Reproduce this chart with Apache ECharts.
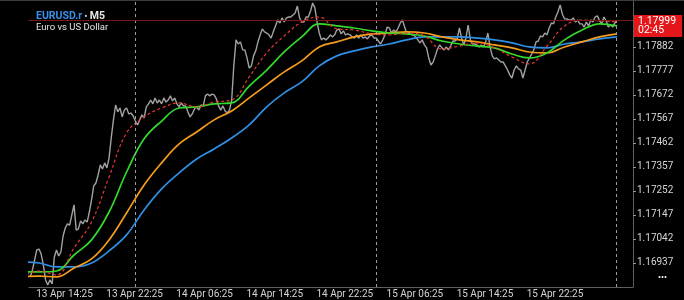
<!DOCTYPE html>
<html><head><meta charset="utf-8">
<script src="https://cdn.jsdelivr.net/npm/echarts@6/dist/echarts.min.js"></script>
<style>html,body{margin:0;padding:0;background:#000}#c{width:684px;height:300px}</style>
</head><body><div id="c"></div>
<script>
// Time values are hours since 13 Apr 00:00 (server time)
const symbol = 'EURUSD.r';
const timeframe = 'M5';
const description = 'Euro vs US Dollar';

// Closing prices, one every 15 minutes starting 13 Apr 10:30
const priceStart = 10.5;
const priceStep = 0.25;
const closes = [
  1.16876,1.16906,1.16950,1.16994,1.16998,1.16976,1.16928,1.16863,1.16841,1.16863,
  1.16845,1.16963,1.16994,1.16968,1.16985,1.17055,1.17090,1.17108,1.17103,1.17147,
  1.17191,1.17081,1.17086,1.17121,1.17108,1.17125,1.17116,1.17160,1.17213,1.17274,
  1.17287,1.17322,1.17366,1.17348,1.17375,1.17353,1.17396,1.17484,1.17563,1.17628,
  1.17598,1.17615,1.17576,1.17606,1.17615,1.17589,1.17593,1.17580,1.17558,1.17541,
  1.17563,1.17585,1.17571,1.17620,1.17633,1.17650,1.17633,1.17659,1.17637,1.17650,
  1.17633,1.17659,1.17641,1.17650,1.17668,1.17646,1.17659,1.17633,1.17620,1.17637,
  1.17624,1.17624,1.17598,1.17576,1.17589,1.17611,1.17620,1.17606,1.17628,1.17624,
  1.17668,1.17676,1.17668,1.17676,1.17672,1.17655,1.17624,1.17606,1.17624,1.17602,
  1.17593,1.17606,1.17650,1.17803,1.17913,1.17895,1.17904,1.17869,1.17869,1.17834,
  1.17790,1.17799,1.17843,1.17865,1.17904,1.17935,1.17961,1.17948,1.17943,1.17935,
  1.17921,1.17948,1.17974,1.18000,1.17987,1.18009,1.17991,1.18009,1.18013,1.18013,
  1.18022,1.18031,1.18061,1.18009,1.17991,1.17991,1.18013,1.18013,1.18039,1.18074,
  1.18053,1.17991,1.17943,1.17913,1.17921,1.17913,1.17921,1.17935,1.17926,1.17935,
  1.17956,1.17961,1.17939,1.17952,1.17935,1.17939,1.17935,1.17926,1.17921,1.17935,
  1.17921,1.17935,1.17921,1.17926,1.17917,1.17930,1.17935,1.17921,1.17921,1.17908,
  1.17895,1.17913,1.17935,1.17969,1.17965,1.17943,1.17956,1.17948,1.17965,1.17987,
  1.18000,1.17969,1.17939,1.17943,1.17935,1.17935,1.17926,1.17913,1.17900,1.17913,
  1.17891,1.17878,1.17834,1.17803,1.17816,1.17843,1.17873,1.17891,1.17878,1.17869,
  1.17882,1.17869,1.17886,1.17908,1.17908,1.17917,1.17965,1.17921,1.17891,1.17921,
  1.17978,1.17913,1.17895,1.17895,1.17891,1.17882,1.17891,1.17882,1.17904,1.17943,
  1.17882,1.17843,1.17830,1.17834,1.17825,1.17816,1.17816,1.17799,1.17781,1.17760,
  1.17746,1.17781,1.17799,1.17786,1.17781,1.17746,1.17781,1.17816,1.17834,1.17851,
  1.17869,1.17904,1.17908,1.17930,1.17926,1.17943,1.17935,1.17965,1.17987,1.17983,
  1.18013,1.18035,1.18066,1.18026,1.18005,1.18005,1.18000,1.18000,1.18009,1.17991,
  1.18000,1.17983,1.17983,1.17969,1.17991,1.17974,1.18000,1.17991,1.18013,1.18018,
  1.17996,1.17983,1.18013,1.17996,1.17969,1.17978,1.17969,1.17987,1.17999
];

// Moving averages, one value every 2 hours starting 13 Apr 09:30
const maStart = 9.5;
const maStep = 2;
const maFast = [1.16876,1.16902,1.16885,1.17003,1.17116,1.17313,1.17506,1.17576,1.17615,1.17637,
  1.17620,1.17641,1.17650,1.17751,1.17856,1.17930,1.17991,1.18013,1.17961,1.17956,
  1.17939,1.17935,1.17943,1.17930,1.17873,1.17886,1.17900,1.17878,1.17838,1.17808,
  1.17886,1.17974,1.18000,1.17996,1.17991];
const maGreen = [1.16898,1.16898,1.16902,1.16972,1.17038,1.17160,1.17335,1.17480,1.17558,1.17615,
  1.17620,1.17633,1.17637,1.17711,1.17781,1.17860,1.17926,1.17983,1.17974,1.17965,
  1.17952,1.17943,1.17939,1.17930,1.17908,1.17895,1.17886,1.17878,1.17851,1.17834,
  1.17856,1.17913,1.17956,1.17983,1.17974];
const maOrange = [1.16876,1.16880,1.16876,1.16915,1.16955,1.17038,1.17156,1.17278,1.17375,1.17458,
  1.17510,1.17563,1.17602,1.17659,1.17716,1.17773,1.17821,1.17882,1.17904,1.17926,
  1.17939,1.17943,1.17948,1.17943,1.17926,1.17913,1.17904,1.17891,1.17878,1.17860,
  1.17856,1.17882,1.17904,1.17926,1.17939];
const maBlue = [1.16941,1.16937,1.16920,1.16920,1.16937,1.16990,1.17060,1.17169,1.17261,1.17331,
  1.17392,1.17436,1.17484,1.17541,1.17620,1.17681,1.17729,1.17799,1.17843,1.17865,
  1.17882,1.17895,1.17913,1.17926,1.17926,1.17926,1.17921,1.17913,1.17900,1.17882,
  1.17878,1.17895,1.17904,1.17917,1.17926];

const yTicks = [1.16937,1.17042,1.17147,1.17252,1.17357,1.17462,1.17567,1.17672,1.17777,1.17882];
const xTickTimes = [14.41667,22.41667,30.41667,38.41667,46.41667,54.41667,62.41667,70.41667];
const xTickLabels = ['13 Apr 14:25','13 Apr 22:25','14 Apr 06:25','14 Apr 14:25','14 Apr 22:25','15 Apr 06:25','15 Apr 14:25','15 Apr 22:25'];
const separators = [22.45, 49.98, 77.38];
const bidPrice = 1.17999;
const askPrice = 1.18009;
const barCountdown = '02:45';
const xMin = 10.36, xMax = 79.32;
const yMin = 1.16832, yMax = 1.18083;

const closeData = closes.map((v, i) => [priceStart + i * priceStep, v]);
const maData = arr => arr.map((v, i) => [maStart + i * maStep, v]);

const FONT = 'Roboto, "Noto Sans", sans-serif';
const chart = echarts.init(document.getElementById('c'), null, {renderer: 'canvas'});

const maSeries = (name, arr, color, type, width) => ({
  name, type: 'line', data: maData(arr), smooth: 0.4, showSymbol: false, symbol: 'none',
  lineStyle: {color, width, type}, silent: true, animation: false, z: 3
});

chart.setOption({
  backgroundColor: '#000',
  animation: false,
  title: {
    text: '{a|' + symbol + '}{d| • }{b|' + timeframe + '}',
    subtext: description,
    left: 31, top: 6, itemGap: 1,
    textStyle: {
      fontFamily: FONT,
      rich: {
        a: {color: '#3b8fe8', fontSize: 10.5, fontWeight: 'bold', fontFamily: FONT},
        d: {color: '#9ec3ee', fontSize: 9, fontFamily: FONT},
        b: {color: '#e8e8e8', fontSize: 10.5, fontFamily: FONT}
      }
    },
    subtextStyle: {color: '#e6e6e6', fontSize: 9.5, fontFamily: FONT}
  },
  grid: {left: 29, right: 51, top: 1, bottom: 13, containLabel: false},
  xAxis: {
    type: 'value', min: xMin, max: xMax,
    axisLine: {show: true, lineStyle: {color: '#5e5e5e', width: 1}},
    axisTick: {show: false},
    splitLine: {show: false},
    axisLabel: {
      customValues: xTickTimes, color: '#d6d6d6', fontSize: 10, fontFamily: FONT, margin: 2,
      formatter: v => {
        const i = xTickTimes.findIndex(t => Math.abs(t - v) < 0.01);
        return i >= 0 ? xTickLabels[i] : '';
      }
    }
  },
  yAxis: {
    type: 'value', position: 'right', min: yMin, max: yMax, scale: true,
    axisLine: {show: true, lineStyle: {color: '#5e5e5e', width: 1}},
    axisTick: {show: true, customValues: yTicks, length: 3, lineStyle: {color: '#9a9a9a'}},
    splitLine: {show: false},
    axisLabel: {customValues: yTicks, color: '#d6d6d6', fontSize: 10, fontFamily: FONT, margin: 4,
      formatter: v => v.toFixed(5)}
  },
  series: [
    {
      name: 'Close', type: 'line', data: closeData, showSymbol: false, symbol: 'none',
      lineStyle: {color: '#a2a2a2', width: 1.4}, silent: true, z: 2,
      markLine: {
        silent: true, symbol: ['none', 'none'], animation: false,
        data: [
          ...separators.map(t => ({xAxis: t, lineStyle: {color: '#9c9c9c', type: [3, 3], width: 1}, label: {show: false}})),
          {yAxis: askPrice, lineStyle: {color: '#23857c', type: 'solid', width: 1}, label: {show: false}},
          {yAxis: bidPrice, lineStyle: {color: '#7a1616', type: 'solid', width: 1},
           label: {show: true, position: 'end', distance: 1, offset: [0, 6],
             formatter: bidPrice.toFixed(5) + '\n' + barCountdown,
             backgroundColor: '#e3161a', color: '#ffffff', fontSize: 10.5, lineHeight: 9.5,
             fontFamily: FONT, padding: [2, 6, 1, 4], borderRadius: 0,
             borderColor: '#e3161a', borderWidth: 0}}
        ]
      }
    },
    maSeries('MA 200', maBlue, '#2f8fe4', 'solid', 1.7),
    maSeries('MA 100', maOrange, '#f59c1d', 'solid', 1.7),
    maSeries('MA 50', maGreen, '#33d92c', 'solid', 1.7),
    maSeries('MA 20', maFast, '#e8392f', [3, 2.5], 1.2)
  ],
  graphic: [
    {type: 'rect', left: 0, top: 0, shape: {width: 684, height: 1}, style: {fill: '#3c3c3c'}, silent: true},
    {type: 'text', right: 17, bottom: 18, style: {text: '•••', fill: '#ffffff', fontSize: 9, fontFamily: FONT}, silent: true}
  ]
});
</script>
</body></html>
